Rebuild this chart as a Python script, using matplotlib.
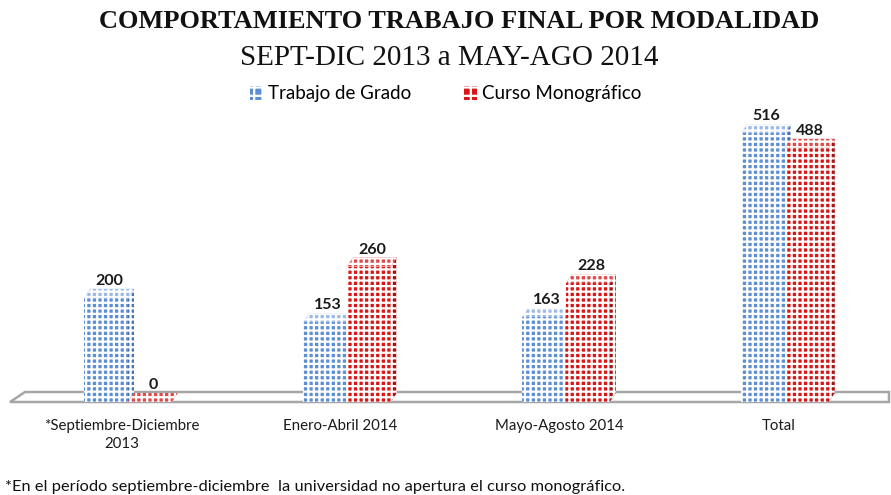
import numpy as np
import matplotlib
matplotlib.use('Agg')
import matplotlib.pyplot as plt
from matplotlib.patches import Polygon, Patch

# data
categories = ['*Septiembre-Diciembre\n2013', 'Enero-Abril 2014', 'Mayo-Agosto 2014', 'Total']
trabajo = [200, 153, 163, 516]
curso = [0, 260, 228, 488]
series_names = ['Trabajo de Grado', 'Curso Monográfico']

W, H = 891, 495
plt.rcParams['hatch.linewidth'] = 1.6

fig = plt.figure(figsize=(W / 100, H / 100), dpi=100)
ax = fig.add_axes([0, 0, 1, 1])
ax.axis('off')

# pixel mapping of the plot area
x0_px, sx = 128, 219      # category 0 centre, px per category
y0_px, sy = 402, 0.521    # baseline, px per unit
ax.set_xlim(-x0_px / sx, (W - x0_px) / sx)
ax.set_ylim(-(H - y0_px) / sy, y0_px / sy)

dx, dy = 6 / sx, 9 / sy   # 3d depth of bars
bw = 0.2

# floor
fdx, fdy = 15 / sx, 10 / sy
fl, fr = -118 / sx, (W - 2 - x0_px) / sx
floor = Polygon([(fl, 0), (fl + fdx, fdy), (fr, fdy), (fr, 0)], closed=True,
                facecolor='white', edgecolor='#a6a6a6', lw=1.8, zorder=1)
ax.add_patch(floor)

styles = [
    dict(face='#5f8fd3', side='#4a74b0', top='#9dbbe6'),
    dict(face='#d81818', side='#a81212', top='#e04a4a'),
]
hatch = '+++'

x = np.arange(len(categories))
for k, vals in enumerate([trabajo, curso]):
    st = styles[k]
    xs = x - bw / 2 + k * bw
    z = 3 + k * 2
    ax.bar(xs, vals, bw, color=st['face'], edgecolor='white', hatch=hatch,
           linewidth=0, zorder=z)
    for xc, v in zip(xs, vals):
        xl, xr = xc - bw / 2, xc + bw / 2
        side = Polygon([(xr, 0), (xr + dx, dy), (xr + dx, v + dy), (xr, v)],
                       facecolor=st['side'], edgecolor='white', hatch=hatch,
                       lw=0, zorder=z)
        top = Polygon([(xl, v), (xl + dx, v + dy), (xr + dx, v + dy), (xr, v)],
                      facecolor=st['top'], edgecolor='white', hatch=hatch,
                      lw=0, zorder=z + 0.5)
        ax.add_patch(side)
        ax.add_patch(top)
        ax.text(xc + dx / 2, v + dy + 1 / sy, str(v), ha='center', va='bottom',
                fontsize=11.5, fontweight='bold', family='Lato', color='#1a1a1a',
                zorder=10)

for xc, lab in zip(x, categories):
    ax.text(xc - 0.03, -17 / sy, lab, ha='center', va='top', fontsize=10.8,
            family='Lato', color='#1a1a1a', linespacing=1.35)

# titles
fig.text(459 / W, 1 - 22 / H, 'COMPORTAMIENTO TRABAJO FINAL POR MODALIDAD',
         ha='center', va='center', fontsize=19, fontweight='bold',
         family='Liberation Serif', color='#111111')
fig.text(449 / W, 1 - 58 / H, 'SEPT-DIC 2013 a MAY-AGO 2014',
         ha='center', va='center', fontsize=21, family='Liberation Serif',
         color='#111111')

handles = [Patch(facecolor=styles[i]['face'], edgecolor='white', hatch='++', lw=0)
           for i in range(2)]
fig.legend(handles, series_names, loc='center', bbox_to_anchor=(0.5, 1 - 94 / H),
           ncol=2, frameon=False, handlelength=0.7,
           handleheight=0.7, handletextpad=0.25, columnspacing=2.8,
           prop={'family': 'Lato', 'size': 13.5})

fig.text(5 / W, 1 - 487 / H,
         '*En el período septiembre-diciembre  la universidad no apertura el curso monográfico.',
         ha='left', va='center', fontsize=11.8, family='Lato', color='#111111')

fig.savefig('out.png', dpi=100)
